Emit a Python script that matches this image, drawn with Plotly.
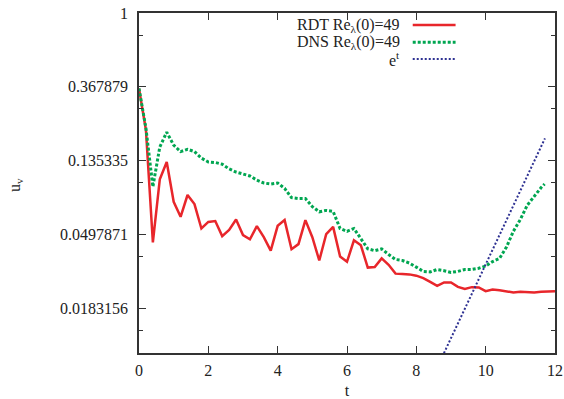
import plotly.graph_objects as go

# ---- data ----
t_rdt = [0.0, 0.2, 0.4, 0.6, 0.8, 1.0, 1.2, 1.4, 1.6, 1.8,
         2.0, 2.2, 2.4, 2.6, 2.8, 3.0, 3.2, 3.4, 3.6, 3.8,
         4.0, 4.2, 4.4, 4.6, 4.8, 5.0, 5.2, 5.4, 5.6, 5.8,
         6.0, 6.2, 6.4, 6.6, 6.8, 7.0, 7.2, 7.4, 7.6, 7.8,
         8.0, 8.2, 8.4, 8.6, 8.8, 9.0, 9.2, 9.4, 9.6, 9.8,
         10.0, 10.2, 10.4, 10.6, 10.8, 11.0, 11.2, 11.4, 11.6, 11.8, 12.0]
u_rdt = [0.36, 0.205, 0.0447, 0.105, 0.133, 0.0775, 0.0633, 0.085, 0.0752, 0.054,
         0.059, 0.0597, 0.0487, 0.0529, 0.061, 0.0494, 0.0467, 0.0558, 0.048, 0.040,
         0.056, 0.0605, 0.0408, 0.0437, 0.0605, 0.048, 0.035, 0.050, 0.0552, 0.037,
         0.0344, 0.046, 0.043, 0.0318, 0.032, 0.036, 0.033, 0.0293, 0.0292, 0.029,
         0.0285, 0.0276, 0.0262, 0.0248, 0.026, 0.026, 0.0245, 0.0238, 0.0244, 0.0243,
         0.0231, 0.0236, 0.0234, 0.0230, 0.0227, 0.0229, 0.0228, 0.0227, 0.0229, 0.0231, 0.0231]

t_dns = [0.0, 0.2, 0.4, 0.6, 0.8, 1.0, 1.2, 1.4, 1.6, 1.8,
         2.0, 2.2, 2.4, 2.6, 2.8, 3.0, 3.2, 3.4, 3.6, 3.8,
         4.0, 4.2, 4.4, 4.6, 4.8, 5.0, 5.2, 5.4, 5.6, 5.8,
         6.0, 6.2, 6.4, 6.6, 6.8, 7.0, 7.2, 7.4, 7.6, 7.8,
         8.0, 8.2, 8.4, 8.6, 8.8, 9.0, 9.2, 9.4, 9.6, 9.8,
         10.0, 10.2, 10.4, 10.6, 10.8, 11.0, 11.2, 11.4, 11.6, 11.7]
u_dns = [0.36, 0.21, 0.095, 0.163, 0.199, 0.167, 0.153, 0.158, 0.153, 0.14,
         0.133, 0.132, 0.129, 0.121, 0.116, 0.113, 0.11, 0.104, 0.1, 0.0986,
         0.1, 0.093, 0.082, 0.081, 0.081, 0.0726, 0.0677, 0.069, 0.068, 0.054,
         0.052, 0.054, 0.047, 0.041, 0.040, 0.041, 0.038, 0.0355, 0.035, 0.0338,
         0.032, 0.0302, 0.030, 0.031, 0.0305, 0.0298, 0.0302, 0.031, 0.031, 0.0315,
         0.0325, 0.0345, 0.036, 0.042, 0.052, 0.061, 0.074, 0.084, 0.094, 0.0986]

t_exp = [8.6, 11.71]
u_exp = [0.0082, 0.183]

y_tickvals = [1, 0.367879, 0.135335, 0.0497871, 0.0183156]
y_ticktext = ["1", "0.367879", "0.135335", "0.0497871", "0.0183156"]
y_minorvals = [0.7408, 0.2725, 0.1003, 0.0369, 0.01357]
x_tickvals = [0, 2, 4, 6, 8, 10, 12]

legend_names = ["RDT Re<sub>λ</sub>(0)=49", "DNS Re<sub>λ</sub>(0)=49", "e<sup>t</sup>"]
x_title = "t"
y_title = "u<sub>v</sub>"

RED = "#e8262b"
GREEN = "#00a651"
BLUE = "#2e3192"
FONT = "Liberation Serif, Times New Roman, serif"
TXT = "#222222"

fig = go.Figure()
fig.add_trace(go.Scatter(x=t_rdt, y=u_rdt, mode="lines",
                         line=dict(color=RED, width=2.5), showlegend=False))
fig.add_trace(go.Scatter(x=t_dns, y=u_dns, mode="lines",
                         line=dict(color=GREEN, width=3, dash="3px,2px"), showlegend=False))
fig.add_trace(go.Scatter(x=t_exp, y=u_exp, mode="lines",
                         line=dict(color=BLUE, width=2, dash="2px,2px"), showlegend=False))

# gnuplot-style key: text right-aligned, sample to the right
rows_y = [0.9647, 0.9138, 0.8647]
styles = [dict(color=RED, width=2.5),
          dict(color=GREEN, width=3, dash="3px,2px"),
          dict(color=BLUE, width=2, dash="2px,2px")]
for name, yy, st in zip(legend_names, rows_y, styles):
    fig.add_annotation(x=0.632, y=yy, xref="paper", yref="paper", text=name,
                       showarrow=False, xanchor="right", yanchor="middle",
                       font=dict(family=FONT, size=16, color=TXT))
    fig.add_shape(type="line", xref="paper", yref="paper",
                  x0=0.658, x1=0.761, y0=yy, y1=yy, line=st)

# y-axis title placed like gnuplot's (far left)
fig.add_annotation(x=-0.298, y=0.494, xref="paper", yref="paper", text=y_title,
                   showarrow=False, textangle=-90, xanchor="center", yanchor="middle",
                   font=dict(family=FONT, size=16, color=TXT))

axis_common = dict(showline=True, linecolor="#333333", linewidth=1.5, mirror="ticks",
                   ticks="inside", ticklen=7, tickwidth=1, tickcolor="#333333",
                   showgrid=False, zeroline=False, automargin=False,
                   tickfont=dict(family=FONT, size=16, color=TXT))

fig.update_xaxes(range=[0, 12], tickvals=x_tickvals, ticktext=[str(v) for v in x_tickvals],
                 ticklabelstandoff=2,
                 title=dict(text=x_title, font=dict(family=FONT, size=16, color=TXT), standoff=13),
                 **axis_common)
fig.update_yaxes(type="log", range=[-2, 0], tickvals=y_tickvals, ticktext=y_ticktext,
                 ticklabelstandoff=6,
                 minor=dict(tickvals=y_minorvals, ticks="inside", ticklen=4,
                            tickcolor="#333333", tickwidth=1),
                 **axis_common)

fig.update_layout(width=564, height=399, margin=dict(l=139, r=9, t=13, b=46, autoexpand=False),
                  font=dict(family=FONT, size=16, color=TXT),
                  paper_bgcolor="white", plot_bgcolor="white", showlegend=False)

fig.write_html("out.html", config={"displayModeBar": False},
               post_script="document.body.style.margin='0';document.body.style.overflow='hidden';")
